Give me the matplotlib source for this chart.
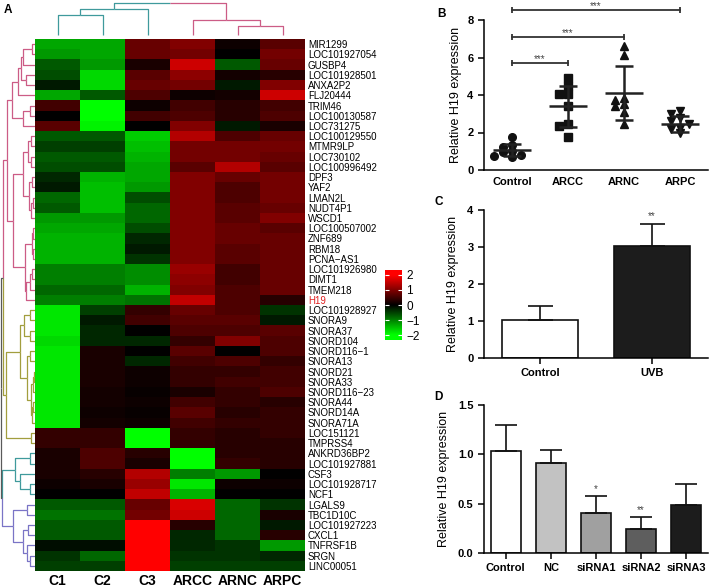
#! /usr/bin/env python3
"""
H19 figure: clustered heatmap (A), scatter (B), bar charts (C, D)
"""
import numpy as np
import matplotlib
matplotlib.use('Agg')
import matplotlib.pyplot as plt
from matplotlib.colors import LinearSegmentedColormap, Normalize

plt.rcParams['font.family'] = ['Liberation Sans', 'DejaVu Sans']

# ---- panel A data
genes = ['MIR1299', 'LOC101927054', 'GUSBP4', 'LOC101928501', 'ANXA2P2', 'FLJ20444',
         'TRIM46', 'LOC100130587', 'LOC731275', 'LOC100129550', 'MTMR9LP', 'LOC730102',
         'LOC100996492', 'DPF3', 'YAF2', 'LMAN2L', 'NUDT4P1', 'WSCD1', 'LOC100507002',
         'ZNF689', 'RBM18', 'PCNA\u2212AS1', 'LOC101926980', 'DIMT1', 'TMEM218', 'H19',
         'LOC101928927', 'SNORA9', 'SNORA37', 'SNORD104', 'SNORD116\u22121', 'SNORA13',
         'SNORD21', 'SNORA33', 'SNORD116\u221223', 'SNORA44', 'SNORD14A', 'SNORA71A',
         'LOC151121', 'TMPRSS4', 'ANKRD36BP2', 'LOC101927881', 'CSF3', 'LOC101928717',
         'NCF1', 'LGALS9', 'TBC1D10C', 'LOC101927223', 'CXCL1', 'TNFRSF1B', 'SRGN',
         'LINC00051']
samples = ['C1', 'C2', 'C3', 'ARCC', 'ARNC', 'ARPC']
expr = np.array([
    [-1.3, -1.3, 0.8, 1.0, 0.1, 0.7],
    [-1.2, -1.3, 0.8, 0.9, 0.0, 0.9],
    [-0.7, -1.2, 0.2, 1.6, -0.7, 0.8],
    [-0.6, -1.7, 0.7, 1.1, 0.15, 0.3],
    [-0.2, -1.7, 0.8, 0.9, -0.2, 1.0],
    [-1.3, -0.7, 0.6, 0.1, 0.15, 1.6],
    [0.5, -2.0, 0.1, 0.5, 0.3, 0.5],
    [0.0, -2.0, 0.5, 0.6, 0.3, 0.6],
    [0.7, -1.9, 0.0, 1.0, -0.2, 0.2],
    [-0.7, -0.7, -1.6, 1.4, 0.6, 0.8],
    [-0.5, -0.5, -1.5, 0.9, 0.9, 0.9],
    [-0.7, -0.7, -1.4, 0.9, 0.9, 0.8],
    [-0.6, -0.6, -1.3, 0.7, 1.4, 0.7],
    [-0.3, -1.4, -1.3, 1.0, 0.8, 0.9],
    [-0.2, -1.5, -1.2, 1.0, 0.6, 0.9],
    [-0.8, -1.5, -0.6, 1.0, 0.6, 0.9],
    [-0.7, -1.5, -0.8, 1.0, 0.7, 0.8],
    [-1.2, -1.2, -0.8, 1.0, 0.7, 1.0],
    [-1.3, -1.3, -0.6, 1.0, 0.8, 0.7],
    [-1.4, -1.4, -0.3, 1.0, 0.8, 0.8],
    [-1.4, -1.4, -0.2, 1.0, 0.7, 0.8],
    [-1.4, -1.4, -0.4, 1.0, 0.7, 0.8],
    [-1.0, -1.0, -1.1, 1.2, 0.5, 0.8],
    [-1.0, -1.0, -1.1, 1.1, 0.5, 0.8],
    [-0.8, -0.8, -1.4, 1.0, 0.6, 0.8],
    [-1.0, -1.0, -0.9, 1.5, 0.6, 0.3],
    [-1.8, -0.5, 0.4, 0.8, 0.6, -0.4],
    [-1.8, -0.2, 0.5, 0.7, 0.7, -0.2],
    [-1.8, -0.3, 0.0, 0.6, 0.6, 0.7],
    [-1.7, -0.3, -0.3, 0.4, 1.0, 0.6],
    [-1.8, 0.2, 0.0, 0.7, 0.0, 0.6],
    [-1.8, 0.2, -0.3, 0.5, 0.6, 0.4],
    [-1.8, 0.2, 0.1, 0.4, 0.4, 0.5],
    [-1.8, 0.2, 0.1, 0.4, 0.5, 0.5],
    [-1.8, 0.15, 0.05, 0.2, 0.4, 0.6],
    [-1.8, 0.15, 0.1, 0.5, 0.4, 0.3],
    [-1.8, 0.1, 0.05, 0.7, 0.3, 0.4],
    [-1.8, 0.15, 0.1, 0.5, 0.4, 0.4],
    [0.4, 0.4, -2.0, 0.4, 0.3, 0.4],
    [0.4, 0.4, -2.0, 0.4, 0.3, 0.3],
    [0.2, 0.6, 0.3, -2.0, 0.3, 0.3],
    [0.2, 0.6, 0.2, -2.0, 0.4, 0.3],
    [0.2, 0.3, 1.4, -1.0, -1.2, 0.0],
    [0.1, 0.2, 1.2, -1.8, 0.1, 0.1],
    [0.0, 0.0, 1.5, -1.4, 0.0, 0.0],
    [-0.7, -0.7, 0.8, 1.7, -0.8, -0.4],
    [-0.9, -0.9, 0.9, 1.6, -0.8, 0.2],
    [-0.7, -0.7, 2.0, 0.3, -0.8, -0.2],
    [-0.7, -0.7, 2.0, -0.3, -0.8, 0.3],
    [-0.1, -0.1, 2.0, -0.3, -0.4, -1.2],
    [-0.4, -0.8, 2.0, -0.4, -0.4, -0.3],
    [-0.5, -0.5, 2.0, -0.5, -0.5, -0.5],
])

# dendrograms: [left, right, height(, colour)], leaves are row/column indices
PINK, OLIVE, TEAL, PURPLE, GREY = '#cc5c86', '#a29e3e', '#3f9a9c', '#7a74c6', '#5a5a5a'
p1 = [[[[0, 1, 3], 2, 12], [3, 4, 9], 14], 5, 17]
p2 = [[6, 7, 5], 8, 12]
p3 = [[[[9, 10, 4], [11, 12, 4], 7], [[13, 14, 3], [[15, 16, 2], 17, 4], 6], 12],
      [[[18, 19, 2], [20, 21, 2], 3], [[[22, 23, 3], 24, 5], 25, 9], 10], 22]
pink_tree = [[p1, p2, 23], p3, 28, PINK]
snor = [[[26, 27, 5], [28, 29, 5], 11],
        [[30, 31, 5], [[[32, 33, 1], 34, 2], [[35, 36, 2], 37, 3], 4], 8], 15]
olive_tree = [snor, [38, 39, 4], 29, OLIVE]
teal_tree = [[40, 41, 5], [42, [43, 44, 5], 15], 20, TEAL]
purple_tree = [[45, 46, 8], [[47, 48, 7], [49, [50, 51, 5], 8], 12], 22, PURPLE]
row_tree = [[pink_tree, olive_tree, 32], [teal_tree, purple_tree, 33], 34.5]
col_tree = [[[0, 1, 20], 2, 26, TEAL], [3, [4, 5, 9], 15, PINK], 32]

# ---- panel B data
b_groups = ['Control', 'ARCC', 'ARNC', 'ARPC']
b_points = [
    [1.75, 1.35, 1.25, 1.0, 0.95, 0.8, 0.75, 0.7],
    [4.9, 4.5, 4.05, 4.05, 3.4, 2.45, 2.35, 1.75],
    [6.6, 6.15, 3.85, 3.75, 3.5, 3.4, 3.1, 2.45],
    [3.15, 3.0, 2.75, 2.6, 2.45, 2.25, 2.2, 1.95],
]
b_mean = [1.07, 3.4, 4.1, 2.45]
b_sd = [0.32, 1.1, 1.45, 0.42]
b_markers = ['o', 's', '^', 'v']
b_sig = [(1, 5.7), (2, 7.1), (3, 8.55)]  # (group compared with Control, bracket height)

# ---- panel C data
c_groups = ['Control', 'UVB']
c_mean = [1.03, 3.03]
c_sd = [0.37, 0.58]
c_colors = ['white', '#1c1c1c']

# ---- panel D data
d_groups = ['Control', 'NC', 'siRNA1', 'siRNA2', 'siRNA3']
d_mean = [1.03, 0.915, 0.41, 0.24, 0.49]
d_sd = [0.27, 0.125, 0.17, 0.12, 0.21]
d_colors = ['white', '#c2c2c2', '#a0a0a0', '#5e5e5e', '#1c1c1c']
d_stars = ['', '', '*', '**', '']


W, H = 709, 588


def px_axes(fig, x0, y0, x1, y1):
    return fig.add_axes([x0 / W, 1 - y1 / H, (x1 - x0) / W, (y1 - y0) / H])


def draw_tree(ax, node, orient, inherited=None):
    if isinstance(node, int):
        return node + 0.5, 0, inherited
    left, right, h = node[:3]
    col = node[3] if len(node) > 3 else inherited
    kids = [draw_tree(ax, left, orient, col), draw_tree(ax, right, orient, col)]
    mid = (kids[0][0] + kids[1][0]) / 2
    for p, hh, cc in kids:
        pos = [p, p, mid]
        hts = [hh, h, h]
        if orient == 'row':
            ax.plot(hts, pos, color=cc or GREY, lw=0.9, solid_capstyle='butt')
        else:
            ax.plot(pos, hts, color=cc or GREY, lw=0.9, solid_capstyle='butt')
    return mid, h, col


def style_bar_axes(ax, label_x):
    for s in ('top', 'right'):
        ax.spines[s].set_visible(False)
    for s in ('left', 'bottom'):
        ax.spines[s].set_linewidth(1.1)
    ax.tick_params(width=1.1, length=4, labelsize=8)
    for lab in ax.get_xticklabels() + ax.get_yticklabels():
        lab.set_fontweight('bold')
    ax.set_ylabel('Relative H19 expression', fontsize=9)
    ax.yaxis.set_label_coords(label_x, 0.5)


def beeswarm(vals, step=0.16, gap=0.3):
    placed = []
    offs = []
    for v in vals:
        for o in (0, -step, step, -2 * step, 2 * step):
            if all(abs(v - pv) >= gap for pv, po in placed if po == o):
                break
        placed.append((v, o))
        offs.append(o)
    return np.array(offs)


fig = plt.figure(figsize=(W / 100, H / 100), dpi=100)
cmap = LinearSegmentedColormap.from_list('gbr', [(0, 1, 0), (0, 0, 0), (1, 0, 0)])
norm = Normalize(-2, 2)

# heatmap
axh = px_axes(fig, 35, 39, 305, 571)
axh.pcolormesh(expr, cmap=cmap, norm=norm)
axh.set_xlim(0, len(samples))
axh.set_ylim(len(genes), 0)
axh.yaxis.tick_right()
axh.set_yticks(np.arange(len(genes)) + 0.5)
axh.set_yticklabels(genes, fontsize=7)
for lab in axh.get_yticklabels():
    if lab.get_text() == 'H19':
        lab.set_color('#e02020')
axh.set_xticks(np.arange(len(samples)) + 0.5)
axh.set_xticklabels(samples, fontsize=10, fontweight='bold')
axh.tick_params(length=0, pad=2)
axh.tick_params(axis='x', pad=2)
for s in axh.spines.values():
    s.set_visible(False)

# row dendrogram
axr = px_axes(fig, 0, 39, 35, 571)
draw_tree(axr, row_tree, 'row')
axr.set_xlim(35, 0)
axr.set_ylim(len(genes), 0)
axr.axis('off')

# column dendrogram
axc = px_axes(fig, 35, 0, 305, 39)
draw_tree(axc, col_tree, 'col')
axc.set_xlim(0, len(samples))
axc.set_ylim(-4, 35)
axc.axis('off')

# colour key
cax = px_axes(fig, 385, 270, 402, 340)
cax.imshow(np.linspace(2.33, -2.33, 200)[:, None], cmap=cmap, norm=norm,
           aspect='auto', extent=(0, 1, -2.33, 2.33))
cax.set_xticks([])
cax.yaxis.tick_right()
cax.set_yticks([-2, -1, 0, 1, 2])
cax.set_yticklabels(['\u22122', '\u22121', '0', '1', '2'], fontsize=8.5)
cax.tick_params(axis='y', direction='in', color='white', length=3, left=True,
                right=True, pad=3)
for s in cax.spines.values():
    s.set_visible(False)

# panel B
axb = px_axes(fig, 484, 20, 708, 170)
for i, vals in enumerate(b_points):
    offs = beeswarm(vals)
    axb.plot(i + offs, vals, ls='none', marker=b_markers[i], ms=5.5, color='#111111')
    axb.hlines(b_mean[i], i - 0.34, i + 0.34, color='#222222', lw=1.8)
    axb.vlines(i, b_mean[i] - b_sd[i], b_mean[i] + b_sd[i], color='#222222', lw=1.8)
    axb.hlines([b_mean[i] - b_sd[i], b_mean[i] + b_sd[i]], i - 0.16, i + 0.16,
               color='#222222', lw=1.8)
for j, y in b_sig:
    axb.plot([0, j], [y, y], color='#333333', lw=1.3, clip_on=False)
    axb.vlines([0, j], y - 0.15, y + 0.15, color='#333333', lw=1.3, clip_on=False)
    axb.text(j / 2, y + 0.04, '***', ha='center', va='baseline', fontsize=7, color='#444444')
axb.set_xlim(-0.5, 3.5)
axb.set_ylim(0, 8)
axb.set_yticks([0, 2, 4, 6, 8])
axb.set_xticks(range(len(b_groups)))
axb.set_xticklabels(b_groups)
style_bar_axes(axb, -0.1)
axb.tick_params(axis='x', length=0, pad=5)

# panel C
axC = px_axes(fig, 484, 210, 708, 358)
xc = np.arange(len(c_groups))
axC.bar(xc, c_mean, width=0.67, color=c_colors, edgecolor='#111111', lw=1.2)
axC.errorbar(xc, c_mean, yerr=[np.zeros(len(c_sd)), c_sd], fmt='none', ecolor='#111111',
             elinewidth=1.2, capsize=9, capthick=1.2)
axC.text(1, c_mean[1] + c_sd[1] + 0.08, '**', ha='center', va='bottom', fontsize=7,
         color='#444444')
axC.set_xlim(-0.5, 1.5)
axC.set_ylim(0, 4)
axC.set_yticks([0, 1, 2, 3, 4])
axC.set_xticks(xc)
axC.set_xticklabels(c_groups)
style_bar_axes(axC, -0.11)

# panel D
axd = px_axes(fig, 484, 405, 708, 553)
xd = np.arange(len(d_groups))
axd.bar(xd, d_mean, width=0.67, color=d_colors, edgecolor='#111111', lw=1.2)
axd.errorbar(xd, d_mean, yerr=[np.zeros(len(d_sd)), d_sd], fmt='none', ecolor='#111111',
             elinewidth=1.2, capsize=8, capthick=1.2)
for i, s in enumerate(d_stars):
    if s:
        axd.text(i, d_mean[i] + d_sd[i] + 0.02, s, ha='center', va='bottom', fontsize=7,
                 color='#444444')
axd.set_xlim(-0.48, 4.48)
axd.set_ylim(0, 1.5)
axd.set_yticks([0, 0.5, 1.0, 1.5])
axd.set_yticklabels(['0.0', '0.5', '1.0', '1.5'])
axd.set_xticks(xd)
axd.set_xticklabels(d_groups)
style_bar_axes(axd, -0.15)

for letter, x, y in (('A', 4, 10), ('B', 437, 14), ('C', 434, 202), ('D', 434, 397)):
    fig.text(x / W, 1 - y / H, letter, fontsize=8.5, fontweight='bold', va='center')

fig.savefig('out.png', dpi=100)
